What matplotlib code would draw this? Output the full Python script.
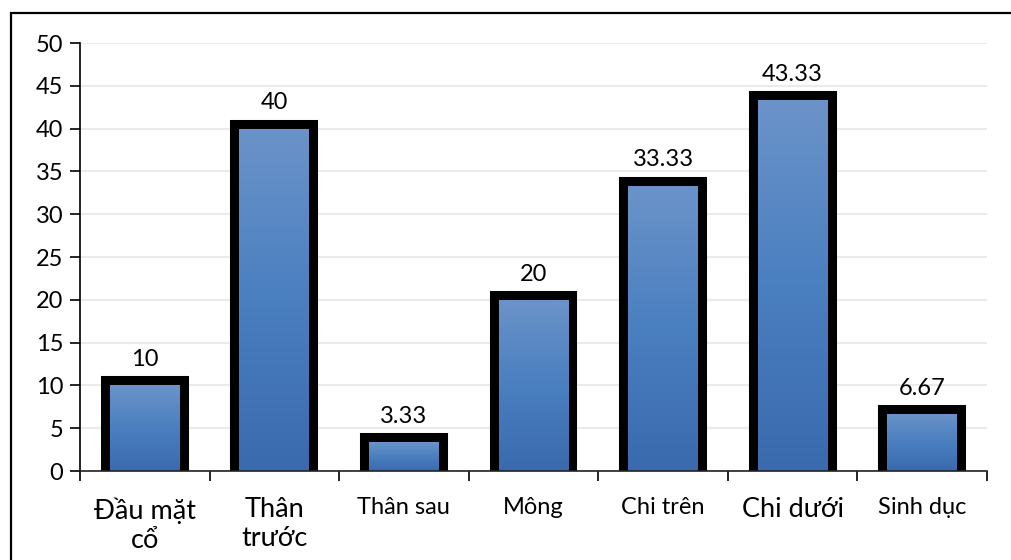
import matplotlib.pyplot as plt
import numpy as np
from matplotlib.patches import Rectangle
from matplotlib.colors import LinearSegmentedColormap

categories = ["Đầu mặt\ncổ", "Thân\ntrước", "Thân sau", "Mông", "Chi trên", "Chi dưới", "Sinh dục"]
values = [10, 40, 3.33, 20, 33.33, 43.33, 6.67]
label_sizes = [19.5, 19.5, 17, 17, 17, 19.5, 17]
yticks = list(range(0, 55, 5))

plt.rcParams['font.family'] = ['Lato', 'Noto Sans', 'DejaVu Sans']

fig = plt.figure(figsize=(10.11, 5.6), dpi=100)
ax = fig.add_axes([80 / 1011, 89 / 560, 907 / 1011, 428 / 560])

# outer chart frame (cut by the image edge on right and bottom)
fig.patches.append(Rectangle((11 / 1011, -0.1), 1.2, (560 - 13) / 560 + 0.1,
                             transform=fig.transFigure, fill=False,
                             edgecolor='black', linewidth=1.6))

x = np.arange(len(categories))
# thick edge: half of it is hidden under the gradient, so the border sits outside the fill
bars = ax.bar(x, values, width=0.54, facecolor='black', edgecolor='black',
              linewidth=13, zorder=2)

grad = LinearSegmentedColormap.from_list('g', ['#3a6aae', '#4a7fc0', '#6b93c9'])
ramp = np.linspace(0, 1, 256).reshape(-1, 1)
for b in bars:
    x0, y0 = b.get_x(), b.get_y()
    im = ax.imshow(ramp, cmap=grad, origin='lower', aspect='auto',
                   extent=[x0, x0 + b.get_width(), y0, y0 + b.get_height()],
                   zorder=3)
    im.set_clip_path(b)

for b, v in zip(bars, values):
    ax.annotate(f"{v:g}", (b.get_x() + b.get_width() / 2, v),
                xytext=(0, 11), textcoords='offset points',
                ha='center', va='bottom', fontsize=17)

ax.set_xlim(-0.5, len(categories) - 0.5)
ax.set_ylim(0, 50)
ax.set_yticks(yticks)
ax.tick_params(axis='y', labelsize=17, length=7, width=1.2, pad=5)
ax.yaxis.grid(True, color='#ebebeb', linewidth=1.5, zorder=0)
ax.set_axisbelow(True)

ax.set_xticks(x)
ax.set_xticklabels(categories, linespacing=1.2)
for lab, s in zip(ax.get_xticklabels(), label_sizes):
    lab.set_fontsize(s)
ax.set_xticks(np.arange(-0.5, len(categories)), minor=True)
ax.tick_params(axis='x', which='major', length=0, pad=19)
ax.tick_params(axis='x', which='minor', length=7, width=1.2)

for side in ['top', 'right']:
    ax.spines[side].set_visible(False)
ax.spines['left'].set_linewidth(1.2)
ax.spines['left'].set_zorder(4)
ax.spines['bottom'].set_linewidth(1.2)
ax.spines['bottom'].set_color('#222222')
ax.spines['bottom'].set_zorder(4)

fig.savefig('out.png', dpi=100)
